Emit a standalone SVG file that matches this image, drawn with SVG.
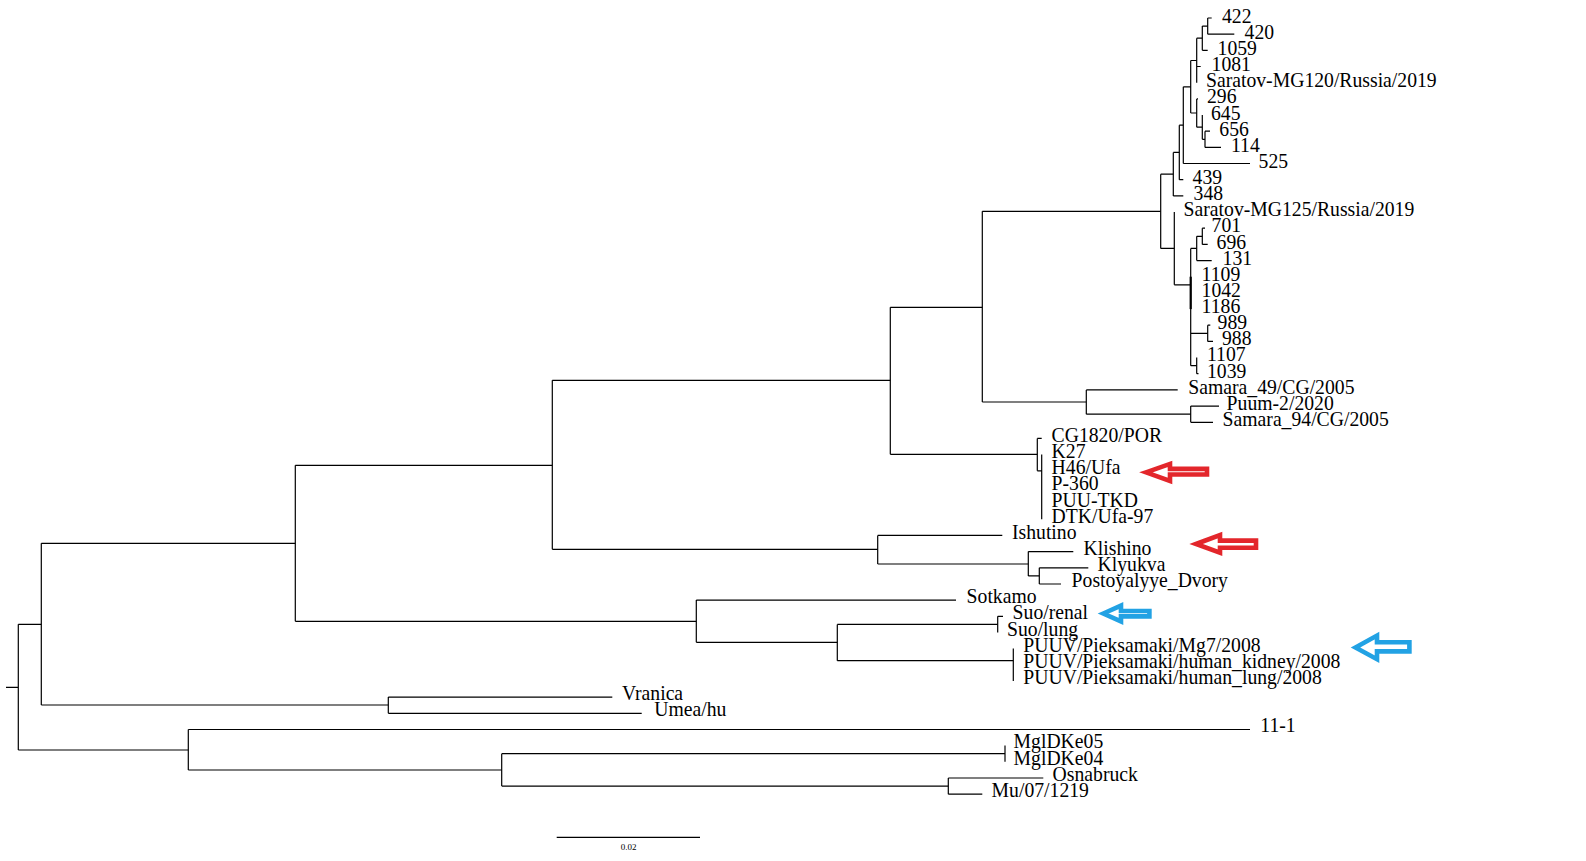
<svg xmlns="http://www.w3.org/2000/svg" width="1586" height="861" viewBox="0 0 1586 861">
  <style>
    .br { fill: none; stroke: #000; stroke-width: 1.2; }
    .br-thick { fill: none; stroke: #000; stroke-width: 2.2; }
    .lab { font-family: "Liberation Serif", "Times New Roman", serif; font-size: 19.7px; fill: #000; }
    .scale { font-family: "Liberation Serif", "Times New Roman", serif; font-size: 9px; fill: #000; }
    .arr-red { fill: #fff; stroke: #e3262b; stroke-width: 4.6; stroke-linejoin: miter; }
    .arr-blue { fill: #fff; stroke: #22a2e4; stroke-width: 4.6; stroke-linejoin: miter; }
  </style>
  <rect width="1586" height="861" fill="#fff"/>

  <!-- branches of the tree -->
  <g id="branches" class="br">
    <!-- root -->
    <path d="M6,687.3 H18.3 M18.3,624.3 V750 M18.3,624.3 H41.3 M18.3,750 H188.3"/>
    <path d="M41.3,543.3 V705 M41.3,543.3 H295.3 M41.3,705 H388.3"/>
    <path d="M388.3,697.1 V713.3 M388.3,697.1 H612.3 M388.3,713.3 H641.7"/>
    <path d="M295.3,465.3 V621.3 M295.3,465.3 H552.3 M295.3,621.3 H696.3"/>
    <path d="M552.3,380.3 V549.3 M552.3,380.3 H890.3 M552.3,549.3 H877.7"/>
    <path d="M890.3,307.3 V454.3 M890.3,307.3 H982.3 M890.3,454.3 H1037.3"/>
    <path d="M982.3,211.3 V402 M982.3,211.3 H1160.7 M982.3,402 H1086.3"/>
    <!-- Samara clade -->
    <path d="M1086.3,389.9 V414.2 M1086.3,389.9 H1177.7 M1086.3,414.2 H1190.7"/>
    <path d="M1190.7,406.1 V422.3 M1190.7,406.1 H1219 M1190.7,422.3 H1213"/>
    <!-- Saratov clade, upper part -->
    <path d="M1160.7,174.2 V248.4 M1160.7,174.2 H1173.3 M1160.7,248.4 H1174.3"/>
    <path d="M1173.3,152.4 V195.9 M1173.3,152.4 H1179.3 M1173.3,195.9 H1183.3"/>
    <path d="M1179.3,125.2 V179.7 M1179.3,125.2 H1183.3 M1179.3,179.7 H1183.3"/>
    <path d="M1183.3,86.8 V163.5 M1183.3,86.8 H1190.7 M1183.3,163.5 H1250"/>
    <path d="M1190.7,60.5 V113 M1190.7,60.5 H1196.7 M1190.7,113 H1196.7"/>
    <path d="M1196.7,38.2 V82.7 M1196.7,38.2 H1202.3 M1196.7,66.5 H1200.7"/>
    <path d="M1202.3,26.1 V50.3 M1202.3,26.1 H1207.7 M1202.3,50.3 H1207.7"/>
    <path d="M1207.7,18 V34.2 M1207.7,18 H1211.7 M1207.7,34.2 H1234.3"/>
    <path d="M1196.7,98.9 V127.2 M1196.7,98.9 H1198 M1196.7,127.2 H1202.3"/>
    <path d="M1202.3,115 V139.3 M1202.3,139.3 H1205"/>
    <path d="M1205,131.2 V147.4 M1205,131.2 H1210 M1205,147.4 H1221"/>
    <!-- Saratov clade, lower part -->
    <path d="M1174.3,212 V284.8 M1174.3,284.8 H1190.7"/>
    <path d="M1190.7,248.4 V365.7 M1190.7,248.4 H1196.7 M1190.7,333.3 H1207.7 M1190.7,365.7 H1196.7"/>
    <path class="br-thick" d="M1190.7,276.7 V309.1"/>
    <path d="M1196.7,236.3 V260.6 M1196.7,236.3 H1202.3 M1196.7,260.6 H1211.7"/>
    <path d="M1202.3,228.2 V244.4 M1202.3,228.2 H1205 M1202.3,244.4 H1207.7"/>
    <path d="M1207.7,325.2 V341.4 M1207.7,325.2 H1210.3 M1207.7,341.4 H1213"/>
    <path d="M1196.7,357.6 V373.7 M1196.7,373.7 H1198.5"/>
    <!-- CG1820 / Ufa clade -->
    <path d="M1037.3,438.4 V470.8 M1037.3,438.4 H1041.7 M1037.3,470.8 H1041.7 M1041.7,454.6 V519.3"/>
    <!-- Ishutino / Klishino clade -->
    <path d="M877.7,535.4 V564 M877.7,535.4 H1002.3 M877.7,564 H1028.3"/>
    <path d="M1028.3,551.6 V575.9 M1028.3,551.6 H1073.3 M1028.3,575.9 H1039.3"/>
    <path d="M1039.3,567.8 V584 M1039.3,567.8 H1088.3 M1039.3,584 H1061"/>
    <!-- Sotkamo / Suo / Pieksamaki clade -->
    <path d="M696.3,600.1 V642.3 M696.3,600.1 H956 M696.3,642.3 H837.3"/>
    <path d="M837.3,624.4 V660.7 M837.3,624.4 H997.7 M837.3,660.7 H1013.3"/>
    <path d="M997.7,616.3 V632.5 M997.7,616.3 H1003"/>
    <path d="M1013.3,648.6 V681"/>
    <!-- outgroup clade -->
    <path d="M188.3,729.5 V770 M188.3,729.5 H1250 M188.3,770 H501.7"/>
    <path d="M501.7,753.7 V786.1 M501.7,753.7 H1005 M501.7,786.1 H948.3"/>
    <path d="M1005,745.6 V761.8"/>
    <path d="M948.3,778 V794.2 M948.3,778 H1043.3 M948.3,794.2 H982.3"/>
  </g>

  <!-- leaf labels -->
  <g class="lab">
    <g id="leaf-422"><text transform="translate(1222,22.7) scale(1,1.1)">422</text></g>
    <g id="leaf-420"><text transform="translate(1244.6,38.8) scale(1,1.1)">420</text></g>
    <g id="leaf-1059"><text transform="translate(1217.6,54.9) scale(1,1.1)">1059</text></g>
    <g id="leaf-1081"><text transform="translate(1211.6,71.1) scale(1,1.1)">1081</text></g>
    <g id="leaf-saratov-mg120"><text transform="translate(1206,87.2) scale(1,1.1)">Saratov-MG120/Russia/2019</text></g>
    <g id="leaf-296"><text transform="translate(1207,103.3) scale(1,1.1)">296</text></g>
    <g id="leaf-645"><text transform="translate(1211,119.5) scale(1,1.1)">645</text></g>
    <g id="leaf-656"><text transform="translate(1219.3,135.6) scale(1,1.1)">656</text></g>
    <g id="leaf-114"><text transform="translate(1231,151.7) scale(1,1.1)">114</text></g>
    <g id="leaf-525"><text transform="translate(1258.6,167.8) scale(1,1.1)">525</text></g>
    <g id="leaf-439"><text transform="translate(1192.6,184) scale(1,1.1)">439</text></g>
    <g id="leaf-348"><text transform="translate(1193.6,200.1) scale(1,1.1)">348</text></g>
    <g id="leaf-saratov-mg125"><text transform="translate(1183.6,216.2) scale(1,1.1)">Saratov-MG125/Russia/2019</text></g>
    <g id="leaf-701"><text transform="translate(1211.6,232.3) scale(1,1.1)">701</text></g>
    <g id="leaf-696"><text transform="translate(1216.6,248.5) scale(1,1.1)">696</text></g>
    <g id="leaf-131"><text transform="translate(1222.6,264.6) scale(1,1.1)">131</text></g>
    <g id="leaf-1109"><text transform="translate(1201.6,280.7) scale(1,1.1)">1109</text></g>
    <g id="leaf-1042"><text transform="translate(1201.6,296.8) scale(1,1.1)">1042</text></g>
    <g id="leaf-1186"><text transform="translate(1201.6,313) scale(1,1.1)">1186</text></g>
    <g id="leaf-989"><text transform="translate(1217.6,329.1) scale(1,1.1)">989</text></g>
    <g id="leaf-988"><text transform="translate(1222,345.2) scale(1,1.1)">988</text></g>
    <g id="leaf-1107"><text transform="translate(1207,361.3) scale(1,1.1)">1107</text></g>
    <g id="leaf-1039"><text transform="translate(1207,377.5) scale(1,1.1)">1039</text></g>
    <g id="leaf-samara-49"><text transform="translate(1188.3,393.6) scale(1,1.1)">Samara_49/CG/2005</text></g>
    <g id="leaf-puum-2"><text transform="translate(1226.6,409.7) scale(1,1.1)">Puum-2/2020</text></g>
    <g id="leaf-samara-94"><text transform="translate(1222.6,425.8) scale(1,1.1)">Samara_94/CG/2005</text></g>
    <g id="leaf-cg1820"><text transform="translate(1051.6,442) scale(1,1.1)">CG1820/POR</text></g>
    <g id="leaf-k27"><text transform="translate(1051.6,458.1) scale(1,1.1)">K27</text></g>
    <g id="leaf-h46"><text transform="translate(1051.6,474.2) scale(1,1.1)">H46/Ufa</text></g>
    <g id="leaf-p360"><text transform="translate(1051.6,490.3) scale(1,1.1)">P-360</text></g>
    <g id="leaf-puu-tkd"><text transform="translate(1051.6,506.5) scale(1,1.1)">PUU-TKD</text></g>
    <g id="leaf-dtk"><text transform="translate(1051.6,522.6) scale(1,1.1)">DTK/Ufa-97</text></g>
    <g id="leaf-ishutino"><text transform="translate(1012,538.7) scale(1,1.1)">Ishutino</text></g>
    <g id="leaf-klishino"><text transform="translate(1083.6,554.8) scale(1,1.1)">Klishino</text></g>
    <g id="leaf-klyukva"><text transform="translate(1097.6,571) scale(1,1.1)">Klyukva</text></g>
    <g id="leaf-postoyalyye"><text transform="translate(1071.6,587.1) scale(1,1.1)">Postoyalyye_Dvory</text></g>
    <g id="leaf-sotkamo"><text transform="translate(966.6,603.2) scale(1,1.1)">Sotkamo</text></g>
    <g id="leaf-suo-renal"><text transform="translate(1012.6,619.3) scale(1,1.1)">Suo/renal</text></g>
    <g id="leaf-suo-lung"><text transform="translate(1007,635.5) scale(1,1.1)">Suo/lung</text></g>
    <g id="leaf-puuv-mg7"><text transform="translate(1023.3,651.6) scale(1,1.1)">PUUV/Pieksamaki/Mg7/2008</text></g>
    <g id="leaf-puuv-kidney"><text transform="translate(1023.3,667.7) scale(1,1.1)">PUUV/Pieksamaki/human_kidney/2008</text></g>
    <g id="leaf-puuv-lung"><text transform="translate(1023.3,683.8) scale(1,1.1)">PUUV/Pieksamaki/human_lung/2008</text></g>
    <g id="leaf-vranica"><text transform="translate(622,700) scale(1,1.1)">Vranica</text></g>
    <g id="leaf-umea"><text transform="translate(654.3,716.1) scale(1,1.1)">Umea/hu</text></g>
    <g id="leaf-11-1"><text transform="translate(1260.3,732.2) scale(1,1.1)">11-1</text></g>
    <g id="leaf-mgldke05"><text transform="translate(1013.6,748.3) scale(1,1.1)">MglDKe05</text></g>
    <g id="leaf-mgldke04"><text transform="translate(1013.6,764.5) scale(1,1.1)">MglDKe04</text></g>
    <g id="leaf-osnabruck"><text transform="translate(1052.6,780.6) scale(1,1.1)">Osnabruck</text></g>
    <g id="leaf-mu"><text transform="translate(991.6,796.7) scale(1,1.1)">Mu/07/1219</text></g>
  </g>

  <!-- scale bar -->
  <g id="scale-bar">
    <path class="br" d="M556.7,837.3 H700"/>
    <text class="scale" x="628.5" y="849.5" text-anchor="middle">0.02</text>
  </g>

  <!-- highlight arrows -->
  <g id="arrow-red-ufa"><polygon class="arr-red" points="1146,472.3 1170,463.9 1170,468.9 1207,468.9 1207,474.5 1170,474.5 1170,481"/></g>
  <g id="arrow-red-klishino"><polygon class="arr-red" points="1196,544 1220,535 1220,540.6 1256,540.6 1256,547.8 1220,547.8 1220,552.7"/></g>
  <g id="arrow-blue-suo"><polygon class="arr-blue" points="1103.3,613.5 1121,605.6 1121,611 1149.4,611 1149.4,616.4 1121,616.4 1121,621.4"/></g>
  <g id="arrow-blue-pieksamaki"><polygon class="arr-blue" points="1355.5,647.5 1377,635.6 1377,642.3 1409.4,642.3 1409.4,651.4 1377,651.4 1377,659.2"/></g>
</svg>
